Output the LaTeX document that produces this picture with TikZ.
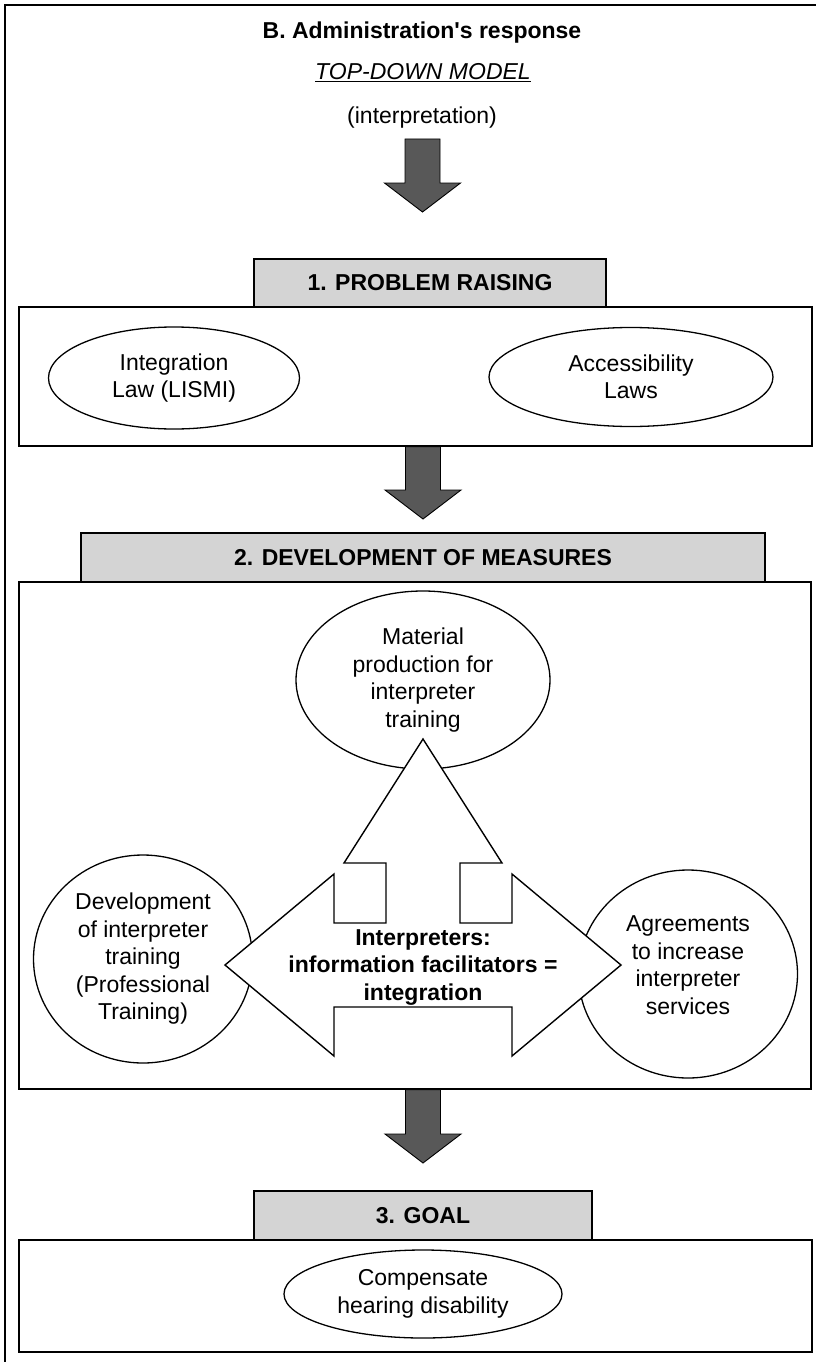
\documentclass[tikz,border=0pt]{standalone}
\usepackage{fontspec}
\setmainfont{Liberation Sans}
\usepackage{tikz}
\usetikzlibrary{shapes.geometric, calc}
\definecolor{arrowgray}{RGB}{88,88,88}
\definecolor{headgray}{RGB}{212,212,212}
% thick gray arrow pointing down, from #1 (top of shaft) to #2 (tip)
\newcommand{\downblock}[2]{%
  \filldraw[blockarrow] ($(#1)+(-17.5,0)$) -- ($(#2)+(-17.5,-29)$) -- ($(#2)+(-38,-29)$)
    -- (#2) -- ($(#2)+(38,-29)$) -- ($(#2)+(17.5,-29)$) -- ($(#1)+(17.5,0)$) -- cycle;}

\begin{document}
\begin{tikzpicture}[x=1pt, y=-1pt,
    every node/.style={font=\fontsize{23}{27.5}\selectfont, align=center},
    panel/.style={draw, line width=1.5pt, inner sep=0pt},
    headbox/.style={draw, line width=1.5pt, fill=headgray, inner sep=0pt,
      font=\fontsize{23}{27.5}\selectfont\bfseries},
    oval/.style={ellipse, draw, line width=1.3pt, inner sep=0pt},
    blockarrow/.style={fill=arrowgray, draw=black, line width=0.9pt, line join=miter}]
  \useasboundingbox (0,0) rectangle (816,1362);
  \clip (0,0) rectangle (816,1362);
  \fill[white] (0,0) rectangle (816,1362);
  % outer frame (cut off at right and bottom)
  \draw[line width=1.8pt] (5,5) rectangle (824,1370);

  % heading
  \node[font=\fontsize{23}{27.5}\selectfont\bfseries] (title) at (422,33) {B. Administration\textquotesingle s response};
  \node (model) at (423,73) {\underline{\textit{TOP-DOWN MODEL}}};
  \node (interp) at (422,118) {(interpretation)};

  % panels and their gray headers
  \node[panel, minimum width=793, minimum height=139] (prob) at (415.5,376.5) {};
  \node[panel, minimum width=792, minimum height=507] (meas) at (415,835.5) {};
  \node[panel, minimum width=793, minimum height=112] (goal) at (415.5,1296) {};
  \node[headbox, minimum width=352, minimum height=48] (probhead) at (430,283) {1. PROBLEM RAISING};
  \node[headbox, minimum width=684, minimum height=49] (meashead) at (423,557.5) {2. DEVELOPMENT OF MEASURES};
  \node[headbox, minimum width=338, minimum height=49] (goalhead) at (423,1215.5) {3. GOAL};

  % down arrows between the stages
  \coordinate (a1top) at (422.5,139);
  \coordinate (a1tip) at (422.5,212);
  \coordinate (a2tip) at (423,519);
  \coordinate (a2top) at (prob.south -| a2tip);
  \coordinate (a3tip) at (423,1163);
  \coordinate (a3top) at (meas.south -| a3tip);
  \downblock{a1top}{a1tip}
  \downblock{a2top}{a2tip}
  \downblock{a3top}{a3tip}

  % 1. problem raising
  \node[oval, minimum width=251, minimum height=102] (lismi) at (174,378) {Integration\\Law (LISMI)};
  \node[oval, minimum width=284, minimum height=99] (access) at (631,377) {Accessibility\\Laws};

  % 2. measures
  \node[oval, minimum width=254, minimum height=178] (material) at (423,680) {Material\\production for\\interpreter\\training};
  \node[oval, minimum width=219, minimum height=208] (develop) at (143,959) {Development\\of interpreter\\training\\(Professional\\Training)};
  \node[oval, minimum width=219, minimum height=208] (agree) at (688,974) {};
  \node (agreetext) at (688,965) {Agreements\\to increase\\interpreter\\services};
  % three-way white arrow on top of the circles
  \coordinate (hubc) at (423,965);
  \filldraw[fill=white, draw=black, line width=1.4pt, line join=miter, shift={(hubc)}]
    (0,-226) -- (79,-102) -- (37,-102) -- (37,-42) -- (89,-42) -- (89,-91) -- (198,0)
    -- (89,91) -- (89,42) -- (-89,42) -- (-89,91) -- (-198,0) -- (-89,-91) -- (-89,-42)
    -- (-37,-42) -- (-37,-102) -- (-79,-102) -- cycle;
  \node[font=\fontsize{23}{27.5}\selectfont\bfseries] (hub) at (423,967.5)
    {Interpreters:\\information facilitators =\\integration};

  % 3. goal
  \node[oval, minimum width=278, minimum height=88] (hearing) at (423,1294) {Compensate\\hearing disability};
\end{tikzpicture}
\end{document}
